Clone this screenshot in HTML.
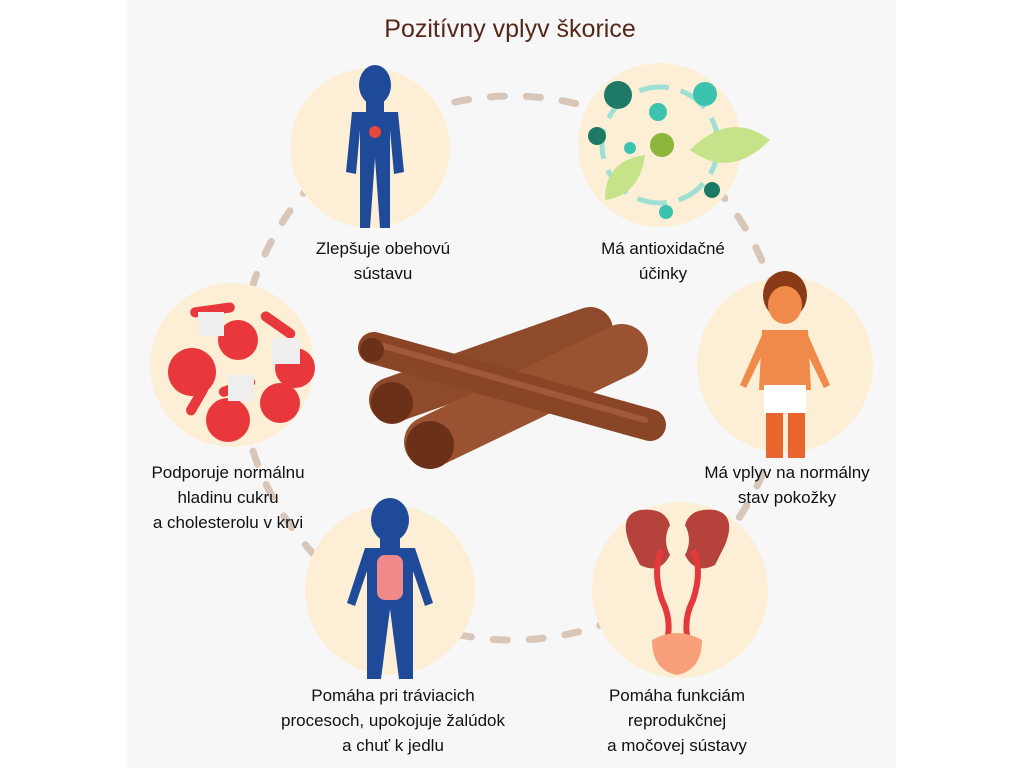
<!DOCTYPE html>
<html><head><meta charset="utf-8"><style>
html,body{margin:0;padding:0;background:#fff}
svg{display:block}
text{font-family:"Liberation Sans",sans-serif}
</style></head><body>
<svg width="1024" height="768" viewBox="0 0 1024 768" xmlns="http://www.w3.org/2000/svg">
<rect x="127" y="0" width="769" height="768" fill="#f7f7f7"/>
<text x="510" y="37" font-size="25" fill="#55281a" text-anchor="middle">Pozitívny vplyv škorice</text>
<circle cx="512" cy="368" r="272" fill="none" stroke="#d8c6b8" stroke-width="7" stroke-linecap="round" stroke-dasharray="14 22"/>
<g fill="#fdefd6">
<circle cx="370" cy="148" r="80"/>
<circle cx="660" cy="145" r="82"/>
<circle cx="785" cy="365" r="88"/>
<circle cx="232" cy="365" r="82"/>
<circle cx="390" cy="590" r="85"/>
<circle cx="680" cy="590" r="88"/>
</g>
<g fill="#1f4a9a">
<ellipse cx="375" cy="85" rx="16" ry="20"/>
<rect x="366" y="100" width="18" height="14"/>
<path d="M352 112 h46 l6 60 l-10 2 -4-44 v98 h-10 l-5-70 -5 70 h-10 v-98 l-4 44 -10-2z"/>
</g>
<circle cx="375" cy="132" r="6" fill="#e5483a"/>
<circle cx="660" cy="145" r="58" fill="none" stroke="#9fe0d4" stroke-width="5" stroke-dasharray="30 12"/>
<circle cx="618" cy="95" r="14" fill="#1e7a66"/><circle cx="705" cy="94" r="12" fill="#3cc3b0"/>
<circle cx="658" cy="112" r="9" fill="#3cc3b0"/><circle cx="662" cy="145" r="12" fill="#8ab63a"/>
<circle cx="597" cy="136" r="9" fill="#1e7a66"/><circle cx="712" cy="190" r="8" fill="#1e7a66"/>
<circle cx="666" cy="212" r="7" fill="#3cc3b0"/><circle cx="630" cy="148" r="6" fill="#3cc3b0"/>
<path d="M690 150 q40-40 80-10 q-40 40-80 10z" fill="#c6e38a"/>
<path d="M605 200 q0-40 40-45 q-5 40-40 45z" fill="#c6e38a"/>
<ellipse cx="785" cy="295" rx="22" ry="24" fill="#8a3a17"/>
<ellipse cx="785" cy="305" rx="17" ry="19" fill="#f08a4b"/>
<path d="M762 330 h46 l3 60 h-52z" fill="#f08a4b"/>
<rect x="764" y="385" width="42" height="28" fill="#fff"/>
<path d="M766 413 h17 v45 h-17z M788 413 h17 v45 h-17z" fill="#e9652e"/>
<path d="M762 335 l-22 50 6 3 22-45z M808 335 l22 50 -6 3 -22-45z" fill="#f08a4b"/>
<g fill="#e8383c">
<circle cx="192" cy="372" r="24"/><circle cx="238" cy="340" r="20"/><circle cx="295" cy="368" r="20"/>
<circle cx="280" cy="403" r="20"/><circle cx="228" cy="420" r="22"/>
<rect x="190" y="305" width="45" height="10" rx="5" transform="rotate(-8 212 310)"/>
<rect x="258" y="320" width="40" height="10" rx="5" transform="rotate(35 278 325)"/>
<rect x="218" y="382" width="38" height="10" rx="5" transform="rotate(-20 237 387)"/>
<rect x="180" y="395" width="34" height="10" rx="5" transform="rotate(-60 197 400)"/>
</g>
<g fill="#eeeeee"><rect x="198" y="312" width="26" height="24"/><rect x="272" y="338" width="28" height="26"/><rect x="228" y="375" width="26" height="26"/></g>
<g stroke-linecap="round">
<line x1="392" y1="400" x2="590" y2="330" stroke="#8e4a2b" stroke-width="46"/>
<line x1="430" y1="442" x2="622" y2="350" stroke="#9a5230" stroke-width="52"/>
<line x1="374" y1="348" x2="650" y2="425" stroke="#8a4527" stroke-width="32"/>
<line x1="380" y1="345" x2="645" y2="420" stroke="#a2593a" stroke-width="6"/>
</g>
<circle cx="392" cy="403" r="21" fill="#6b3118"/><circle cx="430" cy="445" r="24" fill="#6b3118"/>
<circle cx="372" cy="350" r="12" fill="#6b3118"/>
<g fill="#1f4a9a">
<ellipse cx="390" cy="520" rx="19" ry="22"/>
<rect x="380" y="535" width="20" height="15"/>
<path d="M365 548 h50 l18 55 -8 3 -12-35 v108 h-14 l-9-70 -9 70 h-14 v-108 l-12 35 -8-3z"/>
</g>
<rect x="377" y="555" width="26" height="45" rx="8" fill="#f08a8a"/>
<path d="M630 545 q-12 -30 10-35 q25-3 30 15 q-8 15 0 30 q-10 20-30 10z" fill="#b5433b"/>
<path d="M725 545 q12 -30 -10-35 q-25-3 -30 15 q8 15 0 30 q10 20 30 10z" fill="#b5433b"/>
<path d="M662 550 q-10 20 0 50 q10 20 5 40 M693 550 q10 20 0 50 q-10 20 -5 40" fill="none" stroke="#e5383c" stroke-width="6"/>
<path d="M652 640 q25-14 50 0 q0 30 -25 35 q-25-5 -25-35z" fill="#f9a07a"/>
<g font-size="17" fill="#111" text-anchor="middle">
<text x="383" y="254">Zlepšuje obehovú</text><text x="383" y="279">sústavu</text>
<text x="663" y="254">Má antioxidačné</text><text x="663" y="279">účinky</text>
<text x="228" y="478">Podporuje normálnu</text><text x="228" y="503">hladinu cukru</text><text x="228" y="528">a cholesterolu v krvi</text>
<text x="787" y="478">Má vplyv na normálny</text><text x="787" y="503">stav pokožky</text>
<text x="393" y="701">Pomáha pri tráviacich</text><text x="393" y="726">procesoch, upokojuje žalúdok</text><text x="393" y="751">a chuť k jedlu</text>
<text x="677" y="701">Pomáha funkciám</text><text x="677" y="726">reprodukčnej</text><text x="677" y="751">a močovej sústavy</text>
</g>
</svg>
</body></html>
